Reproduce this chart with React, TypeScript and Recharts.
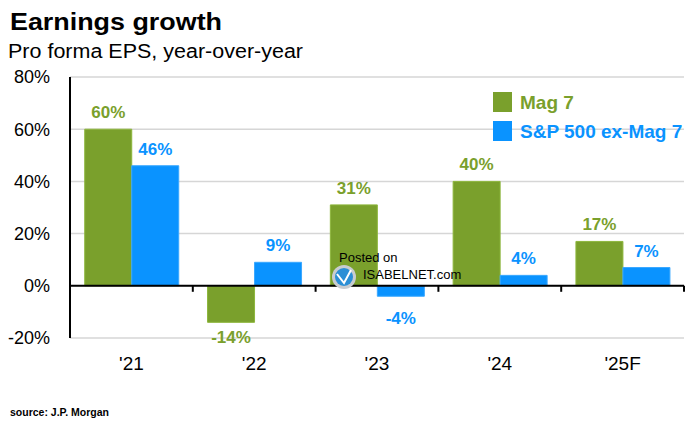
import { Bar, BarChart, CartesianGrid, LabelList, Legend, ReferenceLine, XAxis, YAxis } from 'recharts'

const years = ["'21", "'22", "'23", "'24", "'25F"]
const mag7 = [60, -14, 31, 40, 17]
const spxExMag7 = [46, 9, -4, 4, 7]
const yTicks = [-20, 0, 20, 40, 60, 80]

const GREEN = '#7aa02c'
const BLUE = '#0a93ff'
const FONT = '"Liberation Sans", Arial, sans-serif'

const data = years.map((year, i) => ({
  year,
  mag7: mag7[i],
  spx: spxExMag7[i],
}))

const series = [
  { key: 'mag7', name: 'Mag 7', color: GREEN, edge: '#8db63c', below: 21 },
  { key: 'spx', name: 'S&P 500 ex-Mag 7', color: BLUE, edge: '#3aa8ff', below: 28 },
]

function barLabel(color: string, below: number) {
  return (props: any) => {
    const { x, y, width, height, value } = props
    const top = Math.min(y, y + height)
    const bottom = Math.max(y, y + height)
    const ty = value >= 0 ? top - 11 : bottom + below
    return (
      <text
        x={x + width / 2}
        y={ty}
        textAnchor="middle"
        fill={color}
        fontSize={17}
        fontWeight="bold"
        fontFamily={FONT}
      >
        {value}%
      </text>
    )
  }
}

// zero line with the category tick marks hanging below it
function ZeroAxis(props: any) {
  const { x1, y1, x2 } = props
  const step = (x2 - x1) / years.length
  return (
    <g>
      <line x1={x1} y1={y1} x2={x2} y2={y1} stroke="#000" strokeWidth={2} />
      {years.map((_, i) => (
        <line
          key={i}
          x1={x1 + step * (i + 1)}
          x2={x1 + step * (i + 1)}
          y1={y1}
          y2={y1 + 6}
          stroke="#000"
          strokeWidth={2}
        />
      ))}
    </g>
  )
}

function LegendBox() {
  return (
    <svg width={210} height={56}>
      {series.map((s, i) => (
        <g key={s.key}>
          <rect x={0} y={i * 29} width={19} height={20} fill={s.color} />
          <text
            x={27}
            y={i * 29 + 17}
            fill={s.color}
            fontSize={19}
            fontWeight="bold"
            fontFamily={FONT}
          >
            {s.name}
          </text>
        </g>
      ))}
    </svg>
  )
}

export default function App() {
  return (
    <div
      style={{
        position: 'absolute',
        left: 0,
        top: 0,
        width: 700,
        height: 425,
        background: '#fff',
        fontFamily: FONT,
      }}
    >
      <BarChart
        width={700}
        height={425}
        data={data}
        margin={{ top: 77, right: 16, bottom: 0, left: 0 }}
        barCategoryGap="12%"
        barGap={0}
      >
        <CartesianGrid vertical={false} stroke="#d6d6d6" strokeWidth={1.5} />
        <XAxis
          dataKey="year"
          height={87}
          axisLine={false}
          tickLine={false}
          tickSize={0}
          tickMargin={19}
          tick={{ fill: '#000', fontSize: 19, fontFamily: FONT }}
        />
        <YAxis
          width={70}
          domain={[-20, 80]}
          ticks={yTicks}
          interval={0}
          tickFormatter={(v) => `${v}%`}
          axisLine={{ stroke: '#000', strokeWidth: 2 }}
          tickLine={false}
          tickSize={0}
          tickMargin={20}
          tick={{ fill: '#000', fontSize: 18, fontFamily: FONT }}
        />
        <ReferenceLine y={0} shape={ZeroAxis} />
        <Legend
          verticalAlign="middle"
          content={() => <LegendBox />}
          wrapperStyle={{ position: 'absolute', left: 493, top: 92, width: 210 }}
        />
        {series.map((s) => (
          <Bar
            key={s.key}
            dataKey={s.key}
            name={s.name}
            fill={s.color}
            stroke={s.edge}
            strokeWidth={1}
            isAnimationActive={false}
          >
            <LabelList dataKey={s.key} content={barLabel(s.color, s.below)} />
          </Bar>
        ))}
      </BarChart>

      <svg
        width={700}
        height={425}
        style={{ position: 'absolute', left: 0, top: 0, pointerEvents: 'none' }}
      >
        <text
          x={10}
          y={30}
          fontSize={24}
          fontWeight="bold"
          fontFamily={FONT}
          fill="#000"
          textLength={212}
          lengthAdjust="spacingAndGlyphs"
        >
          Earnings growth
        </text>
        <text
          x={8}
          y={58}
          fontSize={20}
          fontFamily={FONT}
          fill="#000"
          textLength={295}
          lengthAdjust="spacingAndGlyphs"
        >
          Pro forma EPS, year-over-year
        </text>

        {/* watermark */}
        <circle cx={344} cy={277} r={12} fill="#c8ccd0" />
        <circle cx={344} cy={277} r={9} fill="#2b8fd6" />
        <path d="M337 274 L344 283 L351 270" stroke="#fff" strokeWidth={2} fill="none" />
        <text x={339} y={262} fontSize={13} fontFamily={FONT} fill="#000">
          Posted on
        </text>
        <text x={363} y={279} fontSize={13} fontFamily={FONT} fill="#000">
          ISABELNET.com
        </text>

        <text x={10} y={416} fontSize={10.5} fontWeight="bold" fontFamily={FONT} fill="#000">
          source: J.P. Morgan
        </text>
      </svg>
    </div>
  )
}
